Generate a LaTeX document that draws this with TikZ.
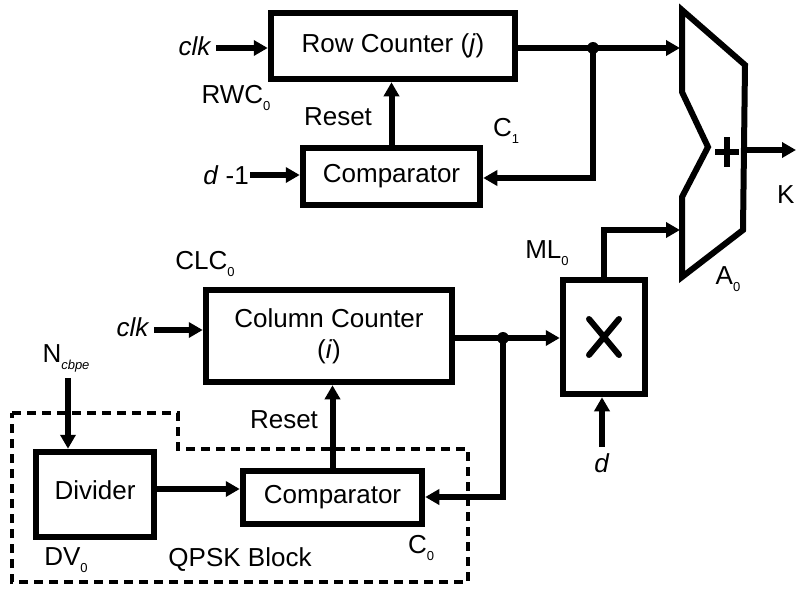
\documentclass[tikz,border=0pt]{standalone}
\usepackage{fontspec}
\setmainfont{Liberation Sans}
\usetikzlibrary{arrows.meta,calc}
\newcommand\subs[1]{\raisebox{-0.5ex}{\fontsize{13}{13}\selectfont #1}}
\begin{document}
\begin{tikzpicture}[x=1pt,y=-1pt,
  blk/.style={draw,line width=6.5pt,inner sep=0pt,align=center,font=\fontsize{26}{31}\selectfont},
  lbl/.style={inner sep=0pt,font=\fontsize{26}{31}\selectfont},
  wire/.style={line width=6pt},
  arr/.style={line width=6pt,-{Triangle[length=14pt,width=15pt]}},
  dot/.style={circle,fill,inner sep=0pt,minimum size=12pt},
  qpsk/.style={line width=3.5pt,dash pattern=on 9pt off 6pt}]
\useasboundingbox (0,0) rectangle (796,589);

% blocks
\node[blk,minimum width=244pt,minimum height=66pt] (rowc) at (393,46) {Row Counter (\textit{j})};
\node[blk,minimum width=177pt,minimum height=57pt] (cmpA) at (391.5,176.5) {Comparator};
\node[blk,minimum width=246pt,minimum height=92pt] (colc) at (329,336) {Column Counter\\(\textit{i})};
\node[blk,minimum width=82pt,minimum height=114pt] (mult) at (604,337) {};
\node[blk,minimum width=118pt,minimum height=85pt] (div) at (95,494.5) {\raisebox{9pt}{Divider}};
\node[blk,minimum width=179pt,minimum height=53pt] (cmpB) at (332.5,497.5) {Comparator};

% multiplier symbol
\draw[line width=6pt,line cap=round] ($(mult.center)+(-15,-18)$) -- ($(mult.center)+(15,18)$);
\draw[line width=6pt,line cap=round] ($(mult.center)+(15,-18)$) -- ($(mult.center)+(-15,18)$);

% adder
\coordinate (a1) at (682,10);
\coordinate (a2) at (745,65);
\coordinate (a3) at (743,230);
\coordinate (a4) at (682,277);
\coordinate (a5) at (682,197);
\coordinate (a6) at (708,147);
\coordinate (a7) at (682,92);
\draw[line width=6pt,line join=miter] (a1) -- (a2) -- (a3) -- (a4) -- (a5) -- (a6) -- (a7) -- cycle;
\coordinate (plus) at (727,152);
\draw[line width=6pt] ($(plus)+(-12,0)$) -- ($(plus)+(12,0)$);
\draw[line width=6pt] ($(plus)+(0,-15)$) -- ($(plus)+(0,15)$);
\coordinate (addin1) at (680,48);
\coordinate (addin2) at (680,230);
\coordinate (addout) at (744,150);
\coordinate (kout) at (796,150);

% labels
\node[lbl] (clkA) at (195,46) {\textit{clk}};
\node[lbl] (rwc) at (236,98) {RWC\subs{0}};
\node[lbl] (rstA) at (338,117) {Reset};
\node[lbl] (c1) at (506,131) {C\subs{1}};
\node[lbl,anchor=east] (dm1) at (249,175) {\textit{d} -1};
\node[lbl,anchor=west] (k) at (777,195) {K};
\node[lbl] (a0) at (728,279) {A\subs{0}};
\node[lbl] (ml0) at (547,253) {ML\subs{0}};
\node[lbl] (clc) at (205,264) {CLC\subs{0}};
\node[lbl] (clkB) at (133,327) {\textit{clk}};
\node[lbl] (ncb) at (66,358) {N\subs{\textit{cbpe}}};
\node[lbl] (dlab) at (602,463) {\textit{d}};
\node[lbl] (rstB) at (284,420) {Reset};
\node[lbl] (dv0) at (66,560) {DV\subs{0}};
\node[lbl] (qp) at (240,560) {QPSK Block};
\node[lbl] (c0) at (421,548) {C\subs{0}};

% connectors top
\coordinate (clkAs) at (216,48);
\draw[arr] (clkAs) -- (clkAs -| rowc.west);
\coordinate (j1) at (593,48);
\draw[arr] (rowc.east |- addin1) -- (addin1);
\node[dot] at (j1) {};
\draw[arr] (j1) |- (cmpA.east |- 0,178);
\draw[arr] (cmpA.north) -- (cmpA.north |- rowc.south);
\coordinate (dm1s) at (250,175);
\draw[arr] (dm1s) -- (dm1s -| cmpA.west);
\draw[arr] (addout) -- (kout);

% connectors bottom
\draw[wire] (mult.north) |- (605,230);
\draw[arr] (605,230) -- (addin2);
\coordinate (j2) at (503,338);
\draw[arr] (colc.east |- j2) -- (j2 -| mult.west);
\node[dot] at (j2) {};
\draw[arr] (j2) |- (cmpB.east |- 0,497);
\coordinate (clkBs) at (154,330);
\draw[arr] (clkBs) -- (clkBs -| colc.west);
\coordinate (ds) at (602,447);
\draw[arr] (ds) -- (ds |- mult.south);
\coordinate (ns) at (68,378);
\draw[arr] (ns) -- (ns |- div.north);
\draw[arr] (div.east |- 0,489) -- (cmpB.west |- 0,489);
\draw[arr] (cmpB.north) -- (cmpB.north |- colc.south);

% QPSK dashed boundary
\draw[qpsk] (12,413) -- (178,413) -- (178,449) -- (468,449) -- (468,582) -- (12,582) -- cycle;
\end{tikzpicture}
\end{document}
